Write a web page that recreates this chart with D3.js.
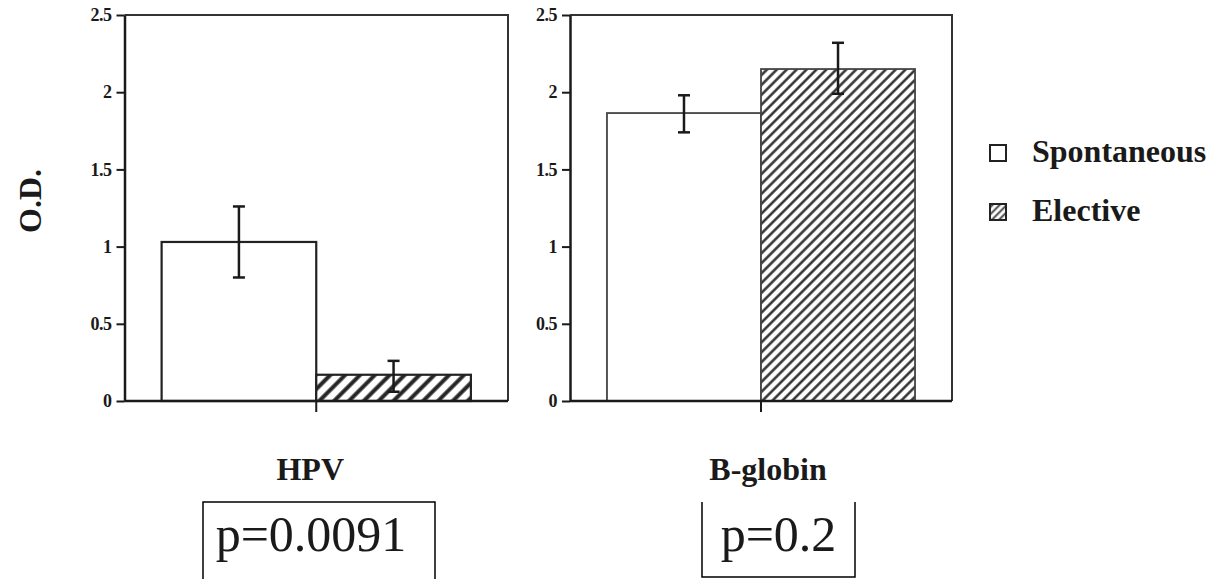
<!DOCTYPE html>
<html>
<head>
<meta charset="utf-8">
<script src="https://cdn.jsdelivr.net/npm/d3@7"></script>
<style>
  body { margin: 0; background: #fff; }
  text { font-family: "Liberation Serif", "Times New Roman", serif; fill: #1a1a1a; }
</style>
</head>
<body>
<script>
// Data.
var categories       = ["HPV", "B-globin"],
    groups           = ["Spontaneous", "Elective"],
    spontaneous      = [1.03, 1.865],
    spontaneousLow   = [0.80, 1.74],
    spontaneousHigh  = [1.26, 1.98],
    elective         = [0.17, 2.15],
    electiveLow      = [0.06, 1.99],
    electiveHigh     = [0.26, 2.32],
    pValues          = ["p=0.0091", "p=0.2"],
    yTicks           = [0, 0.5, 1, 1.5, 2, 2.5],
    yTickLabels      = ["0", "0.5", "1", "1.5", "2", "2.5"];

// Layout.
var width   = 1212,
    height  = 579,
    panels  = [[124.5, 508], [570, 952]],
    hatch   = [{ gap: 10.5, stroke: 4 }, { gap: 7, stroke: 2.4 }],
    pBoxes  = [{ cx: 319, w: 232, open: "bottom" }, { cx: 778.5, w: 153, open: "top" }],
    ink     = "#1a1a1a";

var svg = d3.select("body")
    .append("svg")
    .attr("width", width)
    .attr("height", height);

var defs = svg.append("defs");

// One diagonal hatch per panel (the two halves were scanned at different sizes).
hatch.forEach(function(h, i) {
    var p = defs.append("pattern")
        .attr("id", "hatch" + i)
        .attr("patternUnits", "userSpaceOnUse")
        .attr("width", h.gap)
        .attr("height", h.gap)
        .attr("patternTransform", "rotate(45)");
    p.append("rect").attr("width", h.gap).attr("height", h.gap).attr("fill", "#fff");
    p.append("line")
        .attr("x1", h.gap / 2).attr("y1", 0)
        .attr("x2", h.gap / 2).attr("y2", h.gap)
        .attr("stroke", "#262626")
        .attr("stroke-width", h.stroke);
});
var legendHatch = defs.append("pattern")
    .attr("id", "hatchLegend")
    .attr("patternUnits", "userSpaceOnUse")
    .attr("width", 5).attr("height", 5)
    .attr("patternTransform", "rotate(45)");
legendHatch.append("line")
    .attr("x1", 2.5).attr("y1", 0).attr("x2", 2.5).attr("y2", 5)
    .attr("stroke", "#333").attr("stroke-width", 1.8);

var y = d3.scaleLinear()
    .domain([0, 2.5])
    .range([401, 15]);

categories.forEach(function(cat, i) {
    var x0 = panels[i][0], x1 = panels[i][1];
    var g = svg.append("g");

    var x = d3.scaleBand()
        .domain(groups)
        .range([x0, x1])
        .paddingInner(0)
        .paddingOuter(0.24);

    var values = [spontaneous[i], elective[i]],
        lows   = [spontaneousLow[i], electiveLow[i]],
        highs  = [spontaneousHigh[i], electiveHigh[i]];

    // Frame: top and right.
    g.append("path")
        .attr("d", "M" + x0 + "," + y(2.5) + "H" + x1 + "V" + y(0))
        .attr("fill", "none")
        .attr("stroke", "#333")
        .attr("stroke-width", 2);

    // Bars.
    g.selectAll("rect.bar")
        .data(groups)
      .enter()
        .append("rect")
        .attr("class", "bar")
        .attr("x", function(d) { return x(d); })
        .attr("y", function(d, j) { return y(values[j]); })
        .attr("width", x.bandwidth())
        .attr("height", function(d, j) { return y(0) - y(values[j]); })
        .attr("fill", function(d, j) { return j === 0 ? "#fff" : "url(#hatch" + i + ")"; })
        .attr("stroke", i === 0 ? "#222" : "#444")
        .attr("stroke-width", i === 0 ? 2.2 : 1.8);

    // Error bars.
    var err = g.selectAll("g.err")
        .data(groups)
      .enter()
        .append("g")
        .attr("class", "err")
        .attr("stroke", ink)
        .attr("stroke-width", 2.5);
    err.append("line")
        .attr("x1", function(d) { return x(d) + x.bandwidth() / 2; })
        .attr("x2", function(d) { return x(d) + x.bandwidth() / 2; })
        .attr("y1", function(d, j) { return y(lows[j]); })
        .attr("y2", function(d, j) { return y(highs[j]); });
    [lows, highs].forEach(function(arr) {
        err.append("line")
            .attr("x1", function(d) { return x(d) + x.bandwidth() / 2 - 6; })
            .attr("x2", function(d) { return x(d) + x.bandwidth() / 2 + 6; })
            .attr("y1", function(d, j) { return y(arr[j]); })
            .attr("y2", function(d, j) { return y(arr[j]); });
    });

    // Baseline and the tick between the two bars.
    g.append("line")
        .attr("x1", x0).attr("x2", x1)
        .attr("y1", y(0)).attr("y2", y(0))
        .attr("stroke", ink).attr("stroke-width", 2.5);
    var mid = x(groups[1]);
    g.append("line")
        .attr("x1", mid).attr("x2", mid)
        .attr("y1", y(0)).attr("y2", y(0) + 11)
        .attr("stroke", ink).attr("stroke-width", 2);

    // Y axis.
    var axis = g.append("g")
        .attr("transform", "translate(" + x0 + ",0)")
        .call(d3.axisLeft(y)
            .tickValues(yTicks)
            .tickFormat(function(d, k) { return yTickLabels[k]; })
            .tickSize(8)
            .tickSizeOuter(0)
            .tickPadding(5));
    axis.select(".domain").attr("stroke", ink).attr("stroke-width", 2.5);
    axis.selectAll(".tick line").attr("stroke", ink).attr("stroke-width", 2);
    axis.selectAll(".tick text")
        .attr("font-family", "'Liberation Serif', 'Times New Roman', serif")
        .attr("font-size", "18px")
        .attr("font-weight", "bold")
        .attr("letter-spacing", "-0.5px")
        .attr("fill", "#222");

    // Category label.
    g.append("text")
        .text(cat)
        .attr("x", mid + (i === 0 ? -6 : 7))
        .attr("y", 480)
        .attr("text-anchor", "middle")
        .attr("font-size", "32px")
        .attr("font-weight", "bold");

    // p-value box.
    var b = pBoxes[i],
        bl = b.cx - b.w / 2,
        br = b.cx + b.w / 2;
    var d = b.open === "bottom"
        ? "M" + bl + "," + height + "V502H" + br + "V" + height
        : "M" + bl + ",502V577H" + br + "V502";
    g.append("path")
        .attr("d", d)
        .attr("fill", "none")
        .attr("stroke", "#000")
        .attr("stroke-width", 1.5);
    g.append("text")
        .text(pValues[i])
        .attr("x", b.cx + (i === 0 ? -8 : 0))
        .attr("y", 551)
        .attr("text-anchor", "middle")
        .attr("font-size", "50px")
        .attr("fill", "#000");
});

// Y axis title.
svg.append("text")
    .text("O.D.")
    .attr("transform", "translate(41,201) rotate(-90)")
    .attr("text-anchor", "middle")
    .attr("font-size", "32px")
    .attr("font-weight", "bold");

// Legend.
var legend = svg.selectAll("g.legend")
    .data(groups)
  .enter()
    .append("g")
    .attr("class", "legend")
    .attr("transform", function(d, i) { return "translate(990," + (145 + i * 59) + ")"; });
legend.append("rect")
    .attr("width", 16)
    .attr("height", 16)
    .attr("fill", function(d, i) { return i === 0 ? "#fff" : "url(#hatchLegend)"; })
    .attr("stroke", "#222")
    .attr("stroke-width", 2);
legend.append("text")
    .text(function(d) { return d; })
    .attr("x", 42)
    .attr("y", 17)
    .attr("font-size", "32px")
    .attr("font-weight", "bold");
</script>
</body>
</html>
